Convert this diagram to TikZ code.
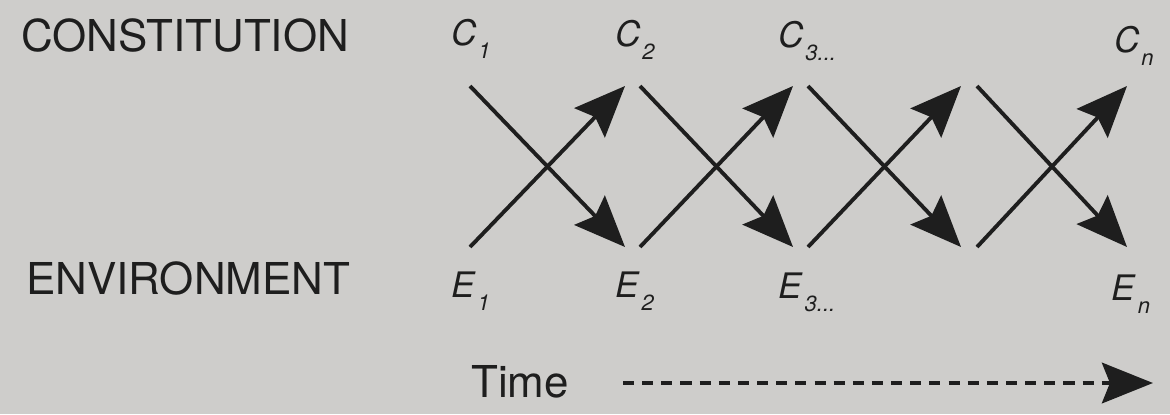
\documentclass[tikz,border=0pt]{standalone}
\usepackage{fontspec}
\setmainfont{TeX Gyre Heros}
\usetikzlibrary{arrows.meta,positioning}
\usepackage{xcolor}
\definecolor{kertas}{RGB}{206,205,203}
\definecolor{tinta}{RGB}{30,30,30}
\newcommand{\lbl}[2]{\textit{#1}\kern1pt\raisebox{-7.5pt}{\fontsize{12.5}{12.5}\selectfont\textit{#2}}}

\begin{document}
\begin{tikzpicture}[x=0.02cm, y=-0.02cm,
    every node/.style={inner sep=0pt, text=tinta},
    judul/.style={anchor=base west, font=\fontsize{25}{30}\selectfont},
    simbol/.style={anchor=base west, font=\fontsize{20}{24}\selectfont},
    panah/.style={line width=2.2pt, draw=tinta, -{Stealth[length=29pt,width=24pt,inset=4.5pt]}}]
    % Kertas
    \path[use as bounding box, fill=kertas] (0,0) rectangle (1170,414);

    % Judul baris
    \node[judul] (konst) at (21,51) {CONSTITUTION};
    \node[judul] (ling) at (26,294) {ENVIRONMENT};

    % Label C dan E
    \node[simbol] (c1) at (451,45) {\lbl{C}{1}};
    \node[simbol] (c2) at (615,46) {\lbl{C}{2}};
    \node[simbol] (c3) at (778,47) {\lbl{C}{3...}};
    \node[simbol] (cn) at (1114,52) {\lbl{C}{n}};
    \node[simbol] (e1) at (451,297) {\lbl{E}{1}};
    \node[simbol] (e2) at (615,297) {\lbl{E}{2}};
    \node[simbol] (e3) at (778,298) {\lbl{E}{3...}};
    \node[simbol] (en) at (1111,300) {\lbl{E}{n}};

    % Panah silang
    \foreach \i/\s/\e in {1/470/625, 2/640/793, 3/808/961, 4/977/1127} {
        \coordinate (ca\i) at (\s,86);
        \coordinate (ea\i) at (\s,247);
        \coordinate (cb\i) at (\e,86);
        \coordinate (eb\i) at (\e,247);
        \draw[panah] (ca\i) -- (eb\i);
        \draw[panah] (ea\i) -- (cb\i);
    }

    % Waktu
    \node[judul] (waktu) at (471,397) {Time};
    \coordinate (wmulai) at (623,383);
    \coordinate (wakhir) at (1153,383);
    \draw[line width=2.8pt, draw=tinta, dash pattern=on 6.3pt off 4.6pt,
        -{Stealth[length=29pt,width=23pt,inset=4.5pt]}] (wmulai) -- (wakhir);
\end{tikzpicture}
\end{document}
